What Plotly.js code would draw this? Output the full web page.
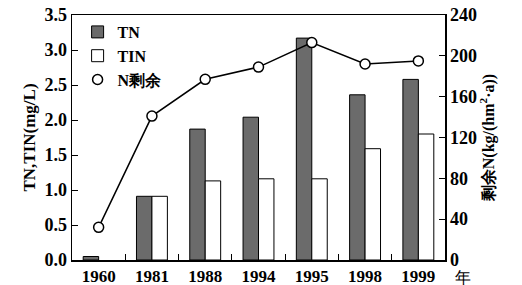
<!DOCTYPE html>
<html><head><meta charset="utf-8">
<script src="https://cdn.plot.ly/plotly-3.0.1.min.js"></script>
<style>html,body{margin:0;padding:0;background:#fff}</style>
</head><body>
<div id="chart" style="width:522px;height:285px"></div>
<script>
const years = ['1960','1981','1988','1994','1995','1998','1999'];
const tn = [0.05, 0.91, 1.87, 2.04, 3.17, 2.36, 2.58];
const tin = [null, 0.91, 1.13, 1.16, 1.16, 1.59, 1.80];
const nSurplus = [32, 141, 177, 189, 213, 192, 195];

const serif = 'Liberation Serif, Times New Roman, serif';
const tickFont = {family: serif, size: 18, color: '#000', weight: 'bold'};
const xTickFont = {family: serif, size: 17, color: '#000', weight: 'bold'};

const circleMarker = {symbol: 'circle', size: 10, color: '#fff', line: {color: '#000', width: 1.5}};
const traces = [
  {type: 'bar', name: 'TN', x: years, y: tn,
   marker: {color: '#6b6b6b', line: {color: '#000', width: 1}}},
  {type: 'bar', name: 'TIN', x: years, y: tin,
   marker: {color: '#fff', line: {color: '#000', width: 1}}},
  {type: 'scatter', mode: 'lines+markers', name: 'N剩余', x: years, y: nSurplus, yaxis: 'y2',
   showlegend: false, line: {color: '#000', width: 1.5}, marker: circleMarker},
  {type: 'scatter', mode: 'markers', name: 'N剩余', x: [years[0]], y: [null], yaxis: 'y2',
   showlegend: true, marker: circleMarker}
];

const layout = {
  width: 522, height: 285,
  margin: {l: 72, r: 77, t: 15, b: 25},
  paper_bgcolor: '#fff', plot_bgcolor: '#fff',
  barmode: 'group', bargap: 0.42, bargroupgap: 0,
  showlegend: true,
  legend: {x: 0.015, y: 1.0, xanchor: 'left', yanchor: 'top', bgcolor: 'rgba(0,0,0,0)',
           font: {family: serif, size: 16, color: '#000', weight: 'bold'}, tracegroupgap: 0, itemwidth: 30},
  xaxis: {type: 'category', showline: true, linecolor: '#000', linewidth: 1.5, mirror: true,
          ticks: 'inside', tickson: 'boundaries', ticklen: 6, tickcolor: '#000',
          tickfont: xTickFont, showgrid: false, zeroline: false},
  yaxis: {range: [0, 3.5], dtick: 0.5, tickformat: '.1f', showline: true, linecolor: '#000', linewidth: 1.5,
          ticks: 'inside', ticklen: 6, tickcolor: '#000', tickfont: tickFont, showgrid: false, zeroline: false,
          title: {text: 'TN,TIN(mg/L)', font: {family: serif, size: 17, color: '#000', weight: 'bold'}, standoff: 4}},
  yaxis2: {range: [0, 240], dtick: 40, overlaying: 'y', side: 'right', showline: true, linecolor: '#000', linewidth: 1.5,
          ticks: 'inside', ticklen: 6, tickcolor: '#000', tickfont: tickFont, showgrid: false, zeroline: false,
          title: {text: '剩余N(kg/(hm<sup>2</sup>·a))', font: {family: serif, size: 16, color: '#000', weight: 'bold'}, standoff: 4}},
  annotations: [{text: '年', xref: 'paper', yref: 'paper', x: 1.0, y: 0, xanchor: 'left', yanchor: 'top',
                 yshift: -7, xshift: 8, showarrow: false, font: {family: serif, size: 16, color: '#000'}}]
};

Plotly.newPlot('chart', traces, layout, {displayModeBar: false, staticPlot: true});
</script>
</body></html>
